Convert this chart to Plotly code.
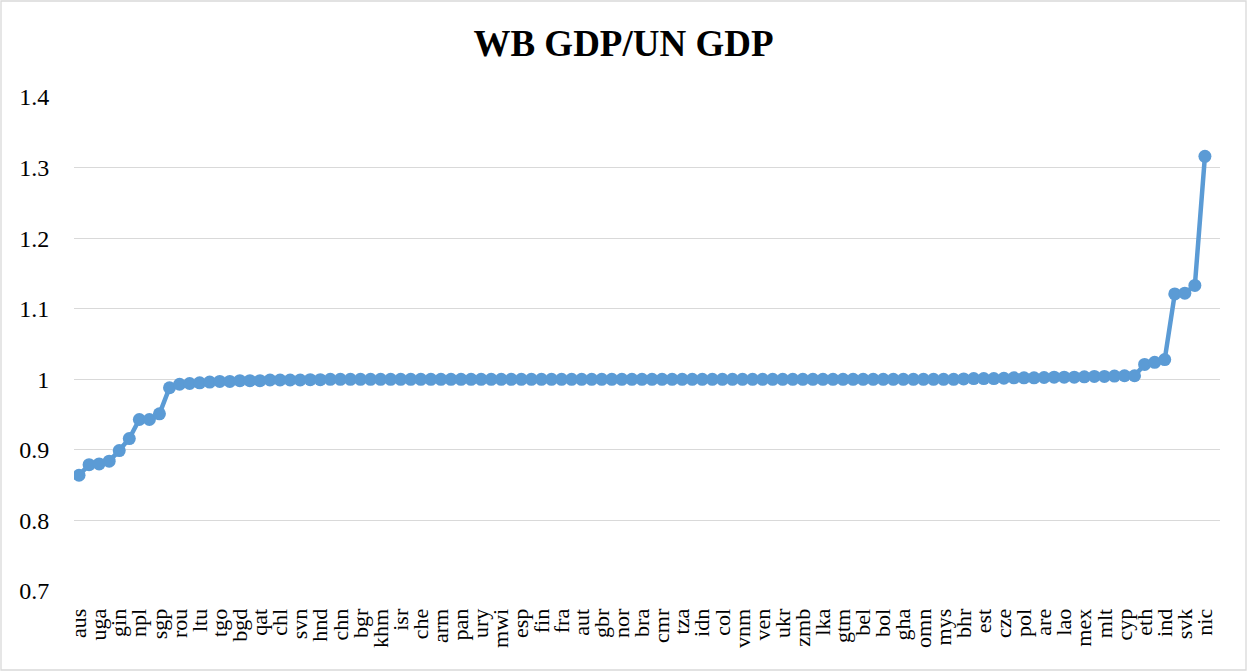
import plotly.graph_objects as go

tick_labels = ["aus", "uga", "gin", "npl", "sgp", "rou", "ltu", "tgo", "bgd", "qat",
               "chl", "svn", "hnd", "chn", "bgr", "khm", "isr", "che", "arm", "pan",
               "ury", "mwi", "esp", "fin", "fra", "aut", "gbr", "nor", "bra", "cmr",
               "tza", "idn", "col", "vnm", "ven", "ukr", "zmb", "lka", "gtm", "bel",
               "bol", "gha", "omn", "mys", "bhr", "est", "cze", "pol", "are", "lao",
               "mex", "mlt", "cyp", "eth", "ind", "svk", "nic"]

ratio = [
    0.864, 0.879, 0.880, 0.884, 0.899, 0.916, 0.943, 0.943, 0.951, 0.988,
    0.993, 0.994, 0.995, 0.996, 0.997, 0.997, 0.998, 0.998, 0.998, 0.999,
    0.999, 0.999, 0.999, 0.9995, 0.9995, 1.000, 1.000, 1.000, 1.000, 1.000,
    1.000, 1.000, 1.000, 1.000, 1.000, 1.000, 1.000, 1.000, 1.000, 1.000,
    1.000, 1.000, 1.000, 1.000, 1.000, 1.000, 1.000, 1.000, 1.000, 1.000,
    1.000, 1.000, 1.000, 1.000, 1.000, 1.000, 1.000, 1.000, 1.000, 1.000,
    1.000, 1.000, 1.000, 1.000, 1.000, 1.000, 1.000, 1.000, 1.000, 1.000,
    1.000, 1.000, 1.000, 1.000, 1.000, 1.000, 1.000, 1.000, 1.000, 1.000,
    1.000, 1.000, 1.000, 1.000, 1.000, 1.000, 1.000, 1.000, 1.0005, 1.001,
    1.001, 1.001, 1.0015, 1.002, 1.002, 1.002, 1.0025, 1.003, 1.003, 1.003,
    1.0035, 1.004, 1.004, 1.0045, 1.005, 1.005, 1.021, 1.024, 1.028, 1.121,
    1.122, 1.133, 1.316,
]

x_idx = list(range(len(ratio)))
tick_pos = x_idx[::2]

W, H = 1247, 671
ml, mr, mt, mb = 74, 27, 97, 80
pw, ph = W - ml - mr, H - mt - mb

fig = go.Figure(go.Scatter(
    x=x_idx, y=ratio, mode="lines+markers",
    line=dict(color="#5B9BD5", width=4.5),
    marker=dict(color="#5B9BD5", size=13),
    hoverinfo="y",
))

fig.update_layout(
    width=W, height=H,
    margin=dict(l=ml, r=mr, t=mt, b=mb, autoexpand=False),
    paper_bgcolor="white", plot_bgcolor="white",
    showlegend=False,
    title=dict(text="<b>WB GDP/UN GDP</b>", x=0.5, xanchor="center",
               y=1 - 43 / H, yanchor="middle",
               font=dict(family="Liberation Serif", size=37, color="black")),
    font=dict(family="Liberation Serif", color="black"),
    xaxis=dict(range=[-0.5, len(ratio) + 0.5], tickmode="array",
               tickvals=tick_pos, ticktext=tick_labels, tickangle=-90,
               tickfont=dict(size=22), showgrid=False, zeroline=False,
               showline=False, ticks="outside", ticklen=8, tickcolor="white",
               automargin=False),
    yaxis=dict(range=[0.7, 1.4], tickmode="array",
               tickvals=[0.7, 0.8, 0.9, 1.0, 1.1, 1.2, 1.3, 1.4],
               ticktext=["0.7", "0.8", "0.9", "1", "1.1", "1.2", "1.3", "1.4"],
               tickfont=dict(size=24), showgrid=True, gridcolor="#D9D9D9",
               gridwidth=1.3, zeroline=False, showline=False,
               ticks="outside", ticklen=19, tickcolor="white",
               automargin=False),
    shapes=[dict(type="rect", xref="paper", yref="paper",
                 x0=-(ml - 1) / pw, x1=1 + (mr - 1) / pw,
                 y0=-(mb - 1) / ph, y1=1 + (mt - 1) / ph,
                 line=dict(color="#D9D9D9", width=1.3), layer="below")],
)

fig.write_html("out.html", config={"displayModeBar": False},
               post_script="document.body.style.margin='0';document.body.style.overflow='hidden';")
